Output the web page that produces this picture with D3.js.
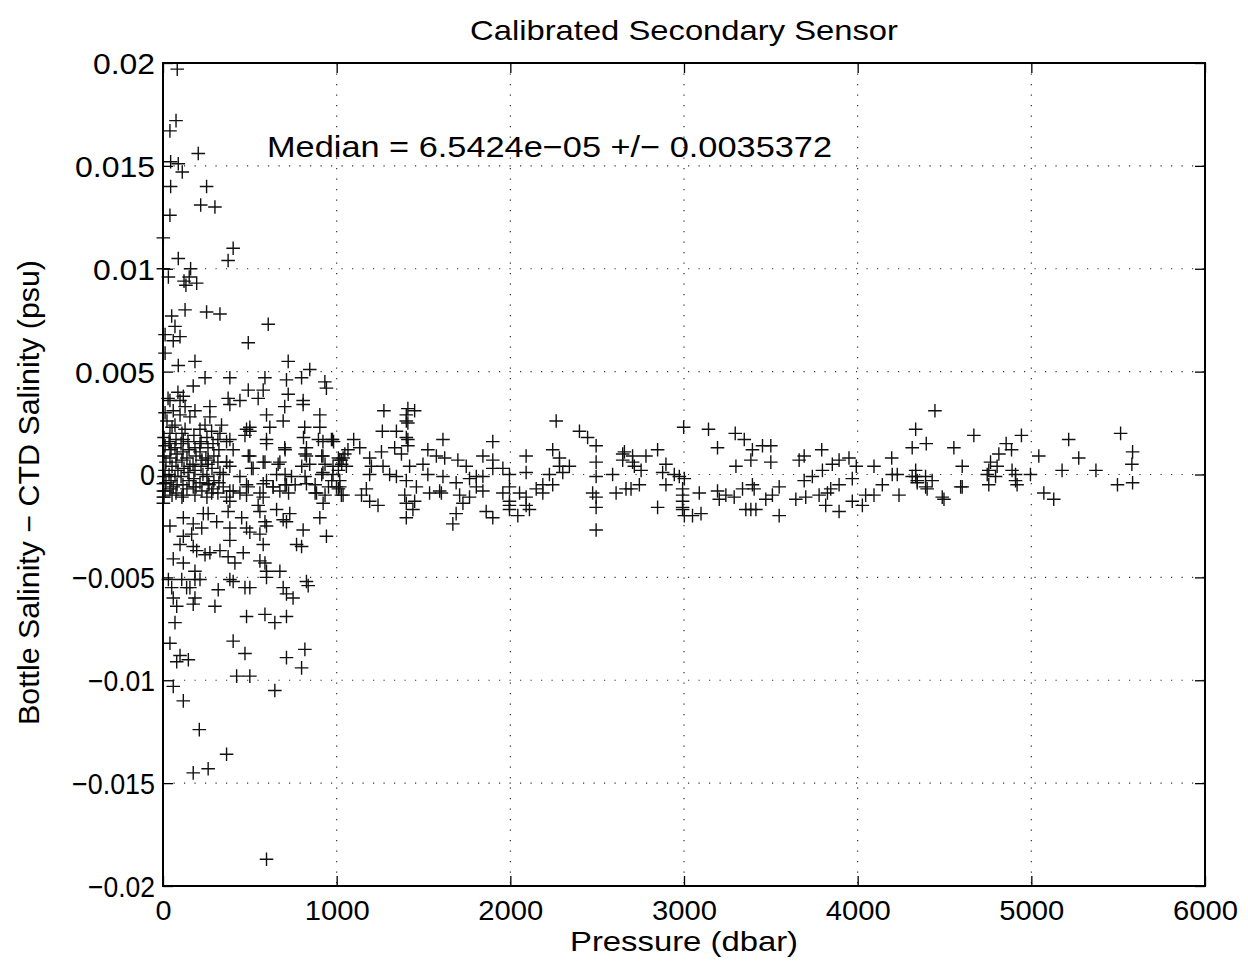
<!DOCTYPE html>
<html>
<head>
<meta charset="utf-8">
<script src="https://cdn.jsdelivr.net/npm/d3@7"></script>
<style>
  html, body { margin: 0; padding: 0; background: #fff; }
  svg { display: block; }
  text { font-family: "Liberation Sans", Arial, Helvetica, sans-serif; fill: #000; }
</style>
</head>
<body>
<svg id="chart" width="1248" height="965"></svg>
<script>
// ---- Data ----
const title = "Calibrated Secondary Sensor";
const xLabel = "Pressure (dbar)";
const yLabel = "Bottle Salinity \u2212 CTD Salinity (psu)";
const annotation = "Median = 6.5424e\u221205 +/\u2212 0.0035372";
const xTicks = [0, 1000, 2000, 3000, 4000, 5000, 6000];
const xTickLabels = ["0", "1000", "2000", "3000", "4000", "5000", "6000"];
const yTicks = [-0.02, -0.015, -0.01, -0.005, 0, 0.005, 0.01, 0.015, 0.02];
const yTickLabels = ["\u22120.02", "\u22120.015", "\u22120.01", "\u22120.005", "0", "0.005", "0.01", "0.015", "0.02"];

// pressure (dbar)
const pressure = [
82,75,40,203,44,88,111,251,44,217,299,40,2,404,375,88,2,159,31,121,151,194,132,
50,127,251,328,606,69,98,59,491,12,88,184,721,845,385,242,587,711,798,932,941,174,117,491,577,375,443,548,721,807,807,701,40,385,98,59,12,903,596,270,155,692,481,500,337,816,903,615,280,213,385,596,701,826,921,970,40,117,213,404,500,826,921,1027,587,663,260,366,519,740,845,921,
2,2,2,2,59,117,174,260,280,385,385,481,481,577,634,711,826,884,922,903,1018,1027,117,232,260,375,453,548,558,654,730,711,692,40,174,223,309,385,481,587,596,500,558,807,941,165,117,385,577,98,174,194,270,242,328,462,769,798,59,117,375,414,558,587,596,184,673,596,31,108,184,213,385,404,472,500,826,836,692,711,749,50,136,155,318,59,184,174,79,299,481,587,644,711,69,40,404,79,98,146,472,711,817,798,424,500,
59,644,117,209,366,260,174,596,
1272,1410,1449,1401,1401,1410,1401,1410,1410,1344,1263,976,1612,1899,2264,2398,2445,2494,2647,2091,2244,2283,1098,1065,1133,1047,1037,1018,1190,1258,1334,1373,1525,1574,1622,1698,1842,1899,2494,2647,979,1056,1200,1267,1420,1497,1746,1804,1899,1957,1995,2091,2225,2283,2302,2340,2589,979,1018,1190,1305,1344,1401,1525,1612,1688,1765,1842,2187,2244,2494,2609,2666,999,1171,1459,1535,1593,1603,1804,1842,1957,1995,2053,2149,2187,2474,2494,1037,1143,1392,1708,1765,2091,1995,1190,1238,1401,1449,1727,1995,2091,2110,2494,1439,1995,1688,1861,1899,1401,2043,1669,2494,
2998,3141,3295,3347,3193,3394,3452,3500,3385,3500,3299,3692,3663,3793,3854,3893,3950,3992,4094,4196,4314,4334,2657,2704,2781,2848,2896,2704,2714,2753,2877,2944,2973,3002,2743,2695,2896,2992,2992,3088,3193,3203,3241,3289,3337,3394,3404,3548,3509,3471,3644,3701,3692,3739,3797,3778,3826,3845,3893,3969,3969,4027,4046,4094,4142,4199,4228,4238,4314,4343,2848,2992,2992,3002,3049,3098,3356,3385,3414,3548,3816,3893,2992,
4445,4395,4554,4669,4855,4886,4943,4813,4765,4803,4602,4755,4889,5043,5215,5273,5177,5372,5514,5583,5579,4334,4334,4391,4429,4343,4391,4400,4746,4755,4794,4909,4909,4918,4995,4593,4602,4487,4497,5072,5129,5496,5583,
366,472,500,596,491,577,673,510,366,385,347,443,596,654,347,404,443,491,558,634,673,577,366,
809,895,982,703,818,914,1010,1029,933,799,703,818,914,1010,972,703,761,876,953,1010,723,876,933,
6,12,6,17,12,6,17,12,6,40,35,46,40,52,35,46,40,52,75,69,81,75,86,69,81,75,109,104,115,109,121,104,115,109,144,150,138,155,144,150,138,178,184,190,173,184,178,190,184,219,213,224,219,230,213,224,253,259,247,259,253,265,253,288,293,282,293,288,316,322,316,328,322,316,
23,69,98,127,29,86,184,270,242,328,127,52,12
];

// bottle - CTD salinity (psu)
const salinityDiff = [
0.0197,0.0172,0.0167,0.0156,0.0152,0.0151,0.0147,0.0140,0.0140,0.0131,0.0130,0.0126,0.0115,0.0110,0.0104,0.0105,0.0100,0.0100,0.0096,0.0094,0.0096,0.0093,0.0092,
0.0077,0.0080,0.0079,0.0078,0.0073,0.0072,0.0067,0.0065,0.0064,0.0059,0.0053,0.0055,0.0055,0.0051,0.0047,0.0047,0.0047,0.0046,0.0047,0.0045,0.0042,0.0043,0.0038,0.0041,0.0041,0.0037,0.0036,0.0037,0.0039,0.0036,0.0034,0.0033,0.0036,0.0034,0.0036,0.0031,0.0030,0.0029,0.0029,0.0028,0.0028,0.0026,0.0022,0.0023,0.0024,0.0023,0.0023,0.0023,0.0021,0.0022,0.0017,0.0017,0.0013,0.0013,0.0016,0.0017,0.0015,0.0017,0.0015,0.0012,0.0009,0.0009,0.0009,0.0007,0.0006,0.0005,0.0007,0.0006,0.0003,-0.0001,0.0005,0.0001,
-0.00045,-0.0008,-0.0011,-0.0014,-0.0006,-0.0010,-0.0006,-0.00045,-0.0009,-0.0008,-0.0013,-0.0005,-0.0010,-0.00045,-0.0006,-0.0005,-0.00045,-0.0009,-0.0014,-0.0021,-0.0006,-0.0010,-0.0021,-0.0019,-0.0019,-0.0018,-0.0021,-0.0015,-0.0018,-0.0017,-0.0019,-0.0023,-0.0022,-0.0025,-0.0024,-0.0026,-0.0023,-0.0026,-0.0026,-0.0023,-0.0025,-0.0028,-0.0029,-0.0027,-0.0030,-0.0029,-0.0030,-0.0032,-0.0034,-0.0034,-0.0035,-0.0037,-0.0038,-0.0039,-0.0037,-0.0038,-0.0034,-0.0035,-0.0041,-0.0043,-0.0040,-0.0043,-0.0042,-0.0043,-0.0047,-0.0047,-0.0047,-0.0050,-0.0051,-0.0051,-0.0051,-0.0051,-0.0051,-0.0052,-0.0055,-0.0055,-0.0052,-0.0054,-0.0055,-0.0058,-0.0060,-0.0055,-0.0055,-0.0055,-0.0056,-0.0060,-0.0060,-0.0063,-0.0064,-0.0064,-0.0069,-0.0068,-0.0072,-0.0069,-0.0072,-0.0082,-0.0081,-0.0091,-0.0088,-0.0090,-0.0087,-0.0089,-0.0085,-0.0094,-0.0098,-0.0098,
-0.0103,-0.0105,-0.0110,-0.0124,-0.0136,-0.0143,-0.0145,-0.0187,
0.0031,0.0032,0.0031,0.0029,0.0026,0.0025,0.0018,0.0017,0.0014,0.0021,0.0021,0.0017,0.0017,0.0016,0.0026,0.0021,0.0018,0.0014,0.0010,0.0009,0.0012,0.0008,0.0017,0.0012,0.0013,0.0010,0.0008,0.0007,0.0008,0.0011,0.0013,0.0010,0.0012,0.0009,0.0008,0.0007,0.0009,0.0007,0.0006,0.0007,0.0004,0.0004,0.0004,0.0004,0.0004,0.0005,0.0004,-0.0001,0.0003,0.0003,0.0000,0.0001,0.0000,0.0004,0.0001,0.0004,0.0000,0.0000,-0.0003,0.0000,0.0000,-0.0001,-0.0003,0.0000,-0.0001,-0.0004,-0.0002,-0.0001,-0.0005,-0.0005,-0.0001,-0.0009,-0.0007,-0.0006,-0.0007,-0.0006,-0.0009,-0.0008,-0.0009,-0.0006,-0.0008,-0.0009,-0.0006,-0.0009,-0.0007,-0.0009,-0.0009,-0.0011,-0.0010,-0.0010,-0.0010,-0.0010,-0.0011,-0.0011,-0.0013,-0.0013,-0.0015,-0.0014,-0.0013,-0.0014,-0.0015,-0.0015,-0.0017,-0.0016,-0.0017,-0.0017,-0.0019,-0.0018,-0.0021,-0.0021,-0.0020,-0.0024,-0.0027,
0.0023,0.0022,0.0020,0.0017,0.0013,0.0012,0.0014,0.0014,0.0007,0.0006,0.0004,0.0009,0.0007,0.0012,0.0005,0.0007,0.0008,0.0004,0.0004,0.0008,0.0013,0.0022,0.0011,0.0009,0.0009,0.0012,0.0005,0.0006,0.0004,0.0002,0.0001,0.0000,-0.0001,-0.0002,-0.0005,-0.0007,-0.0005,-0.0007,-0.0010,-0.0009,-0.0008,-0.0012,-0.0010,-0.0011,-0.0007,-0.0005,-0.0007,-0.0006,-0.0010,-0.0012,-0.0012,-0.0011,-0.0003,-0.0001,0.0002,-0.0010,-0.0009,-0.0007,-0.0005,-0.0002,-0.0013,-0.0015,-0.0010,-0.0010,-0.0005,0.0000,-0.0000,-0.0010,-0.0001,-0.0003,-0.0016,-0.0016,-0.0017,-0.0020,-0.0020,-0.0019,-0.0017,-0.0017,-0.0017,-0.0020,-0.0015,-0.0018,-0.0013,
0.0031,0.0015,0.0013,0.0019,0.0015,0.0012,0.0019,0.0010,0.0006,0.0004,0.0004,0.0002,0.0002,0.0009,0.0017,0.0008,0.0002,0.0002,0.0020,0.0011,0.0005,0.0002,-0.0001,-0.0001,-0.0003,-0.0004,-0.0006,-0.0007,-0.0000,-0.0005,-0.0001,-0.0000,-0.0003,-0.0005,-0.0000,-0.0006,-0.0006,-0.0011,-0.0012,-0.0009,-0.0012,-0.0005,-0.0004,
0.0016,0.0019,0.0021,0.0015,0.0009,0.0006,0.0006,0.0003,0.0006,0.0004,0.0000,-0.0001,-0.0003,0.0000,-0.0006,-0.0008,-0.0009,-0.0006,-0.0009,-0.0006,-0.0008,-0.0011,-0.0011,
0.0018,0.0017,0.0016,0.0012,0.0010,0.0009,0.0008,0.0005,0.0005,0.0004,0.0000,-0.0001,0.0000,0.0002,-0.0003,-0.0005,-0.0005,-0.0005,-0.0006,-0.0007,-0.0009,-0.0009,-0.0010,
0.0018,0.0014,0.0009,0.0006,0.0002,-0.0001,-0.0004,-0.0008,-0.0011,0.0020,0.0016,0.0012,0.0008,0.0004,0.0000,-0.0003,-0.0007,-0.0010,0.0017,0.0013,0.0010,0.0006,0.0002,-0.0001,-0.0005,-0.0009,0.0020,0.0015,0.0011,0.0007,0.0003,-0.0001,-0.0005,-0.0011,0.0016,0.0012,0.0008,0.0004,0.0001,-0.0003,-0.0007,0.0019,0.0013,0.0009,0.0005,0.0002,-0.0002,-0.0006,-0.0010,0.0016,0.0011,0.0007,0.0004,0.0000,-0.0004,-0.0008,0.0018,0.0013,0.0008,0.0005,-0.0001,-0.0005,-0.0011,0.0015,0.0009,0.0003,-0.0003,-0.0007,0.0017,0.0012,0.0006,0.0001,-0.0004,-0.0009,
0.0026,0.0024,0.0029,0.0033,0.0037,0.0040,0.0031,0.0033,0.0024,0.0020,0.0022,0.0023,0.0068
];

// ---- Layout ----
const W = 1248, H = 965;
const margin = { left: 163, right: 43, top: 63, bottom: 79 };
const svg = d3.select("#chart");
const pw = W - margin.left - margin.right;
const ph = H - margin.top - margin.bottom;

const x = d3.scaleLinear().domain([0, 6000]).range([margin.left, margin.left + pw]);
const y = d3.scaleLinear().domain([-0.02, 0.02]).range([margin.top + ph, margin.top]);

const fontSize = 29;

// grid
const grid = svg.append("g").attr("class", "grid");
grid.selectAll("line.gx").data(xTicks.slice(1, -1)).enter().append("line")
  .attr("x1", d => x(d)).attr("x2", d => x(d))
  .attr("y1", margin.top).attr("y2", margin.top + ph)
  .attr("stroke", "#333").attr("stroke-width", 1.2).attr("stroke-dasharray", "1.2,9.3");
grid.selectAll("line.gy").data(yTicks.slice(1, -1)).enter().append("line")
  .attr("y1", d => y(d)).attr("y2", d => y(d))
  .attr("x1", margin.left).attr("x2", margin.left + pw)
  .attr("stroke", "#333").attr("stroke-width", 1.2).attr("stroke-dasharray", "1.2,9.3");

// data markers (+)
const pts = pressure.map((p, i) => ({ p, s: salinityDiff[i] }));
const arm = 6.8;
const marks = svg.append("g").attr("stroke", "#111").attr("stroke-width", 1.4).attr("fill", "none");
marks.selectAll("path").data(pts).enter().append("path")
  .attr("d", d => {
    const cx = x(d.p), cy = y(d.s);
    return `M${cx - arm},${cy}H${cx + arm}M${cx},${cy - arm}V${cy + arm}`;
  });

// axes (ticks inward, MATLAB style)
const tickLen = 10;
const xAxisB = d3.axisBottom(x).tickValues(xTicks).tickFormat((d, i) => xTickLabels[i]).tickSizeInner(-tickLen).tickSizeOuter(0).tickPadding(14);
const xAxisT = d3.axisTop(x).tickValues(xTicks).tickFormat("").tickSizeInner(-tickLen).tickSizeOuter(0);
const yAxisL = d3.axisLeft(y).tickValues(yTicks).tickFormat((d, i) => yTickLabels[i]).tickSizeInner(-tickLen).tickSizeOuter(0).tickPadding(8);
const yAxisR = d3.axisRight(y).tickValues(yTicks).tickFormat("").tickSizeInner(-tickLen).tickSizeOuter(0);

function styleAxis(g) {
  g.select(".domain").remove();
  g.selectAll(".tick line").attr("stroke", "#000").attr("stroke-width", 1.3);
  g.selectAll(".tick text").style("font-size", fontSize + "px").attr("fill", "#000")
    .style("font-family", "'Liberation Sans', Arial, sans-serif");
}
svg.append("g").attr("transform", `translate(0,${margin.top + ph})`).call(xAxisB).call(styleAxis)
  .selectAll(".tick text").style("font-size", "28px").attr("y", 34).attr("dy", 0)
  .attr("textLength", function() { return this.textContent.length === 1 ? 16 : 65; })
  .attr("lengthAdjust", "spacingAndGlyphs");
svg.append("g").attr("transform", `translate(0,${margin.top})`).call(xAxisT).call(styleAxis);
const yWidths = { "\u22120.02": 67, "\u22120.015": 83, "\u22120.01": 67, "\u22120.005": 83, "0": 15, "0.005": 80, "0.01": 62, "0.015": 80, "0.02": 62 };
svg.append("g").attr("transform", `translate(${margin.left},0)`).call(yAxisL).call(styleAxis)
  .selectAll(".tick text").attr("dy", "0.36em")
  .attr("textLength", function() { return yWidths[this.textContent]; })
  .attr("lengthAdjust", "spacingAndGlyphs");
svg.append("g").attr("transform", `translate(${margin.left + pw},0)`).call(yAxisR).call(styleAxis);

// frame
svg.append("rect").attr("x", margin.left).attr("y", margin.top).attr("width", pw).attr("height", ph)
  .attr("fill", "none").attr("stroke", "#000").attr("stroke-width", 2);

// title
svg.append("text").attr("x", x(3000)).attr("y", 40).attr("text-anchor", "middle")
  .style("font-size", "28px").attr("textLength", 428).attr("lengthAdjust", "spacingAndGlyphs").text(title);

// annotation
svg.append("text").attr("x", 267).attr("y", 157).style("font-size", fontSize + "px")
  .attr("textLength", 565).attr("lengthAdjust", "spacingAndGlyphs").text(annotation);

// axis labels
svg.append("text").attr("x", x(3000)).attr("y", 951).attr("text-anchor", "middle")
  .style("font-size", "28px").attr("textLength", 228).attr("lengthAdjust", "spacingAndGlyphs").text(xLabel);
svg.append("text").attr("transform", `translate(39,${y(0) + 18}) rotate(-90)`).attr("text-anchor", "middle")
  .style("font-size", fontSize + "px").attr("textLength", 465).attr("lengthAdjust", "spacingAndGlyphs").text(yLabel);
</script>
</body>
</html>
